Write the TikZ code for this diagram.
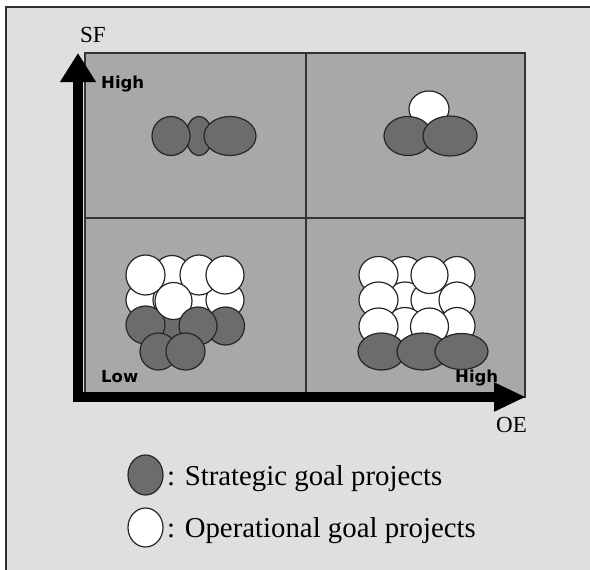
\documentclass[tikz,border=0pt]{standalone}
\usepackage{fontspec}
\setmainfont{Liberation Serif}
\newfontfamily\lblfont{DejaVu Sans}
\usetikzlibrary{arrows.meta,shapes.geometric}
\definecolor{pagebg}{HTML}{DFDFDF}
\definecolor{cellbg}{HTML}{A8A8A8}
\definecolor{gridline}{HTML}{333333}
\definecolor{stratfill}{HTML}{6C6C6C}
\definecolor{ballline}{HTML}{262626}
\definecolor{frameline}{HTML}{2E2E2E}
\tikzset{
  ball/.style={ellipse, draw=ballline, line width=1.2pt, inner sep=0pt},
  sg/.style={ball, fill=stratfill},
  og/.style={ball, fill=white},
  sz/.style 2 args={minimum width=#1pt, minimum height=#2pt},
  axislabel/.style={inner sep=0pt, font=\fontsize{23pt}{24pt}\selectfont},
  levellabel/.style={inner sep=0pt, anchor=base west, font=\lblfont\bfseries\fontsize{16.5pt}{18pt}\selectfont},
  legendtext/.style={inner sep=0pt, anchor=base west, font=\fontsize{28.8pt}{30pt}\selectfont},
}
\begin{document}
\begin{tikzpicture}[x=1pt,y=-1pt]
% page and frame
\useasboundingbox (0,0) rectangle (590,570);
\fill[white] (0,0) rectangle (590,570);
\fill[pagebg] (6,7) rectangle (590,570);
\draw[frameline, line width=2pt] (6,570) -- (6,7) -- (590,7);

% four quadrants
\fill[cellbg] (85,53) rectangle (525,397);
\draw[gridline, line width=1.6pt] (85,53) rectangle (525,397);
\draw[gridline, line width=1.6pt] (306,53) -- (306,397);
\draw[gridline, line width=1.6pt] (85,218) -- (525,218);

% axes
\coordinate (ytip) at (78,53);
\coordinate (orig) at (78,397);
\coordinate (xtip) at (526,397);
\draw[line width=10pt, line join=miter,
  {Triangle[width=34pt,length=29pt]}-{Triangle[width=27pt,length=32pt]}]
  (ytip) -- (orig) -- (xtip);

\node[axislabel] (sf) at (93,35) {SF};
\node[axislabel] (oe) at (511.5,425) {OE};
\node[levellabel] (hightl) at (101,88) {High};
\node[levellabel] (lowbl) at (101,382) {Low};
\node[levellabel] (highbr) at (455,382) {High};

% high SF, low OE
\node[sg, sz={26}{39}] (a2) at (199,136) {};
\node[sg, sz={38}{39}] (a1) at (171,136) {};
\node[sg, sz={52}{39}] (a3) at (230,136) {};

% high SF, high OE
\node[og, sz={40}{36}] (b0) at (429,109) {};
\node[sg, sz={48}{39}] (b1) at (408,136) {};
\node[sg, sz={54}{40}] (b2) at (450,136) {};

% low SF, low OE
\node[og, sz={38}{36}] (c21) at (145,300) {};
\node[og, sz={38}{36}] (c22) at (172,300) {};
\node[og, sz={38}{36}] (c23) at (199,300) {};
\node[og, sz={38}{36}] (c24) at (225,300) {};
\node[og, sz={38}{39}] (c12) at (172,275) {};
\node[og, sz={39}{40}] (c11) at (145.5,275) {};
\node[og, sz={38}{40}] (c13) at (199,275) {};
\node[og, sz={38}{38}] (c14) at (225,275) {};
\node[sg, sz={38}{38}] (d4) at (172,326) {};
\node[sg, sz={39}{38}] (d1) at (145.5,325) {};
\node[sg, sz={38}{38}] (d3) at (225.5,326) {};
\node[og, sz={37}{37}] (c5) at (173.5,301) {};
\node[sg, sz={38}{38}] (d2) at (198,326) {};
\node[sg, sz={37}{37}] (d5) at (158.5,351.5) {};
\node[sg, sz={39}{37}] (d6) at (185.5,351.5) {};

% low SF, high OE
\node[og, sz={38}{37}] (e12) at (405,275) {};
\node[og, sz={36}{37}] (e14) at (457,275) {};
\node[og, sz={38}{36}] (e22) at (405,300) {};
\node[og, sz={38}{36}] (e23) at (430,300) {};
\node[og, sz={36}{36}] (e24) at (457,300) {};
\node[og, sz={38}{37}] (e32) at (405,326) {};
\node[og, sz={36}{37}] (e34) at (457,326) {};
\node[og, sz={39}{37}] (e11) at (378.5,275) {};
\node[og, sz={37}{37}] (e13) at (429.5,275) {};
\node[og, sz={39}{36}] (e21) at (378.5,300) {};
\node[og, sz={39}{37}] (e31) at (378.5,326.5) {};
\node[og, sz={38}{37}] (e33) at (429.5,326.5) {};
\node[sg, sz={47}{37}] (f1) at (381.5,351.5) {};
\node[sg, sz={51}{37}] (f2) at (422.5,351.5) {};
\node[sg, sz={53}{36}] (f3) at (461.5,351.5) {};

% legend
\node[sg, sz={35}{40}] (keys) at (145.5,475) {};
\node[og, sz={35}{39}] (keyo) at (145.5,527.5) {};
\node[legendtext] (keystext) at (167,485) {: Strategic goal projects};
\node[legendtext] (keyotext) at (167,537) {: Operational goal projects};
\end{tikzpicture}
\end{document}
